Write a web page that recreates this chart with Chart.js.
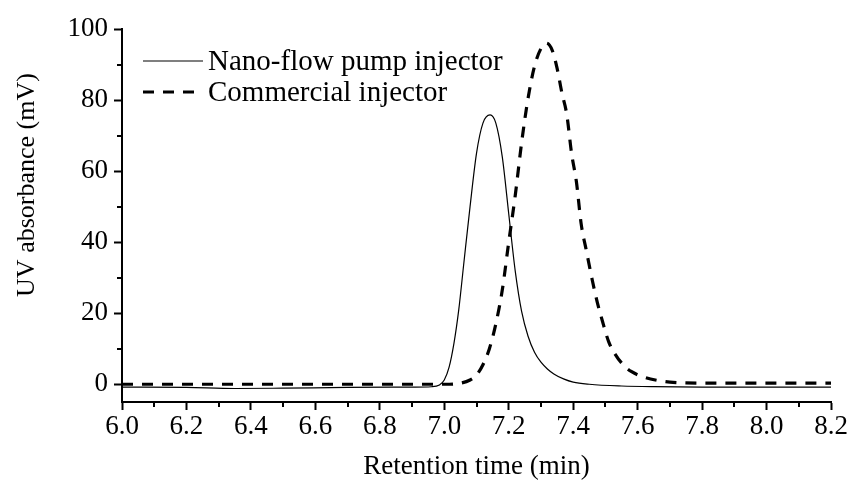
<!DOCTYPE html>
<html>
<head>
<meta charset="utf-8">
<script src="https://cdn.jsdelivr.net/npm/chart.js@4.4.0/dist/chart.umd.min.js"></script>
<style>
  html, body { margin: 0; padding: 0; background: #fff; }
  #wrap { width: 850px; height: 483px; }
</style>
</head>
<body>
<div id="wrap"><canvas id="chart" width="850" height="483"></canvas></div>
<script>
// Series names (legend)
const seriesNames = ['Nano-flow pump injector', 'Commercial injector'];
const xTitle = 'Retention time (min)';
const yTitle = 'UV absorbance (mV)';

// Nano-flow pump injector (solid line)
const nanoTime   = [6.00, 6.20, 6.35, 6.50, 6.70, 6.90, 6.96, 6.985, 7.00, 7.015, 7.03, 7.045, 7.06, 7.08, 7.10, 7.12, 7.142, 7.16, 7.18, 7.20, 7.22, 7.24, 7.26, 7.28, 7.30, 7.32, 7.34, 7.37, 7.40, 7.45, 7.55, 7.65, 7.80, 8.00, 8.20];
const nanoSignal = [-0.8, -0.9, -1.2, -1.1, -0.9, -0.8, -0.7, -0.2, 1.2, 4.8, 11.5, 21, 33.5, 50, 65, 73.5, 75.8, 73.5, 64, 48, 32, 20.5, 13.5, 9.0, 6.2, 4.3, 2.9, 1.5, 0.6, 0.0, -0.5, -0.7, -0.8, -0.8, -0.8];

// Commercial injector (dashed line)
const commTime   = [6.00, 6.50, 7.00, 7.05, 7.08, 7.10, 7.12, 7.14, 7.16, 7.18, 7.20, 7.22, 7.24, 7.26, 7.28, 7.30, 7.317, 7.335, 7.35, 7.365, 7.38, 7.395, 7.41, 7.425, 7.44, 7.46, 7.475, 7.49, 7.51, 7.53, 7.555, 7.58, 7.62, 7.66, 7.70, 7.80, 8.20];
const commSignal = [0.0, 0.0, 0.0, 0.3, 1.2, 2.6, 5.5, 10, 17, 26.5, 40, 53, 68, 80.5, 89.5, 94.5, 96, 94, 89, 82, 76, 65, 57, 45, 38, 29, 23, 18, 12, 8.5, 5.5, 3.6, 2.0, 1.1, 0.6, 0.3, 0.3];

// Axis ticks
const xMajorTicks = [6.0, 6.2, 6.4, 6.6, 6.8, 7.0, 7.2, 7.4, 7.6, 7.8, 8.0, 8.2];
const xTickLabels = ['6.0', '6.2', '6.4', '6.6', '6.8', '7.0', '7.2', '7.4', '7.6', '7.8', '8.0', '8.2'];
const xMinorTicks = [6.1, 6.3, 6.5, 6.7, 6.9, 7.1, 7.3, 7.5, 7.7, 7.9, 8.1];
const yMajorTicks = [0, 20, 40, 60, 80, 100];
const yTickLabels = ['0', '20', '40', '60', '80', '100'];
const yMinorTicks = [10, 30, 50, 70, 90];

const toPoints = (xs, ys) => xs.map((x, i) => ({ x: x, y: ys[i] }));

const serif = '"Liberation Serif", "Times New Roman", serif';
Chart.defaults.font.family = serif;
Chart.defaults.color = '#000';

// short minor ticks, y title and legend drawn at fixed spots
const extras = {
    id: 'extras',
    afterDraw(chart) {
        const ctx = chart.ctx;
        const xs = chart.scales.x, ys = chart.scales.y;
        ctx.save();
        ctx.strokeStyle = '#000';
        ctx.lineWidth = 2;
        ctx.setLineDash([]);
        xMinorTicks.forEach(v => {
            const px = Math.round(xs.getPixelForValue(v));
            ctx.beginPath();
            ctx.moveTo(px, xs.top);
            ctx.lineTo(px, xs.top + 5);
            ctx.stroke();
        });
        yMinorTicks.forEach(v => {
            const py = Math.round(ys.getPixelForValue(v));
            ctx.beginPath();
            ctx.moveTo(ys.right - 5, py);
            ctx.lineTo(ys.right, py);
            ctx.stroke();
        });

        ctx.fillStyle = '#000';
        ctx.textBaseline = 'middle';

        // y axis title
        ctx.save();
        ctx.translate(27, 185);
        ctx.rotate(-Math.PI / 2);
        ctx.textAlign = 'center';
        ctx.font = '26px ' + serif;
        ctx.fillText(yTitle, 0, 0);
        ctx.restore();

        // legend
        ctx.font = '29px ' + serif;
        ctx.textAlign = 'left';
        chart.data.datasets.forEach((ds, i) => {
            const y = 61 + i * 31;
            ctx.beginPath();
            ctx.lineWidth = ds.borderWidth;
            ctx.setLineDash(ds.borderDash || []);
            ctx.moveTo(143, y);
            ctx.lineTo(203, y);
            ctx.stroke();
            ctx.fillText(ds.label, 208, y + 1);
        });
        ctx.restore();
    }
};

new Chart(document.getElementById('chart'), {
    type: 'line',
    data: {
        datasets: [
            {
                label: seriesNames[0],
                data: toPoints(nanoTime, nanoSignal),
                borderColor: '#000',
                borderWidth: 1.2,
                pointRadius: 0,
                cubicInterpolationMode: 'monotone',
                fill: false
            },
            {
                label: seriesNames[1],
                data: toPoints(commTime, commSignal),
                borderColor: '#000',
                borderWidth: 3.2,
                borderDash: [11, 9],
                pointRadius: 0,
                cubicInterpolationMode: 'monotone',
                fill: false
            }
        ]
    },
    options: {
        responsive: false,
        devicePixelRatio: 1,
        animation: false,
        layout: { padding: { left: 0, top: 29, right: 19, bottom: 0 } },
        plugins: {
            legend: { display: false },
            tooltip: { enabled: false }
        },
        scales: {
            x: {
                type: 'linear',
                min: 6.0,
                max: 8.2,
                afterBuildTicks: s => { s.ticks = xMajorTicks.map(v => ({ value: v })); },
                afterFit: s => { s.height = 81; },
                border: { display: true, color: '#000', width: 2 },
                grid: { drawOnChartArea: false, tickLength: 8, tickWidth: 2, tickColor: '#000' },
                ticks: {
                    autoSkip: false,
                    maxRotation: 0,
                    padding: 1,
                    font: { size: 27 },
                    callback: (v, i) => xTickLabels[i]
                },
                title: {
                    display: true,
                    text: xTitle,
                    font: { size: 27 },
                    padding: { top: 0, bottom: 0 }
                }
            },
            y: {
                min: -5,
                max: 100,
                afterBuildTicks: s => { s.ticks = yMajorTicks.map(v => ({ value: v })); },
                afterFit: s => { s.width = 122; },
                border: { display: true, color: '#000', width: 2 },
                grid: { drawOnChartArea: false, tickLength: 8, tickWidth: 2, tickColor: '#000' },
                ticks: {
                    padding: 6,
                    font: { size: 27 },
                    callback: (v, i) => yTickLabels[i]
                }
            }
        }
    },
    plugins: [extras]
});
</script>
</body>
</html>
